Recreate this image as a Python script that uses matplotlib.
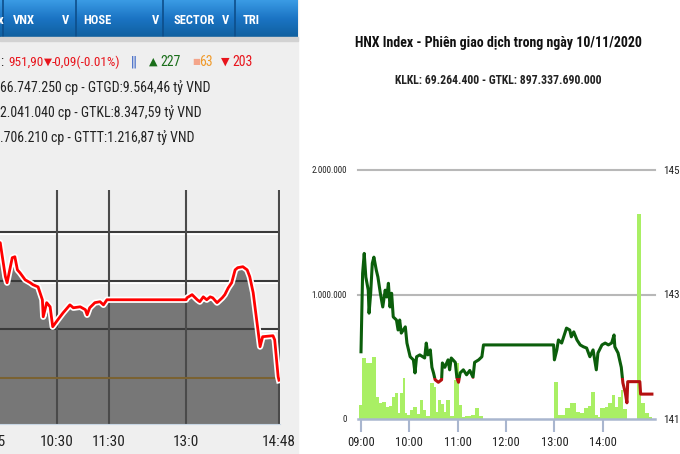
import numpy as np
import matplotlib
matplotlib.use('Agg')
import matplotlib.pyplot as plt
import matplotlib.patheffects as pe
from matplotlib import font_manager
from matplotlib.patches import Rectangle
from matplotlib.colors import LinearSegmentedColormap

# ---- VN-Index (left screenshot, cropped) ----
vn_time = ['9:15', '9:24', '9:30', '9:32', '9:38', '9:41', '9:44', '9:47', '9:53', '9:59',
           '10:02', '10:08', '10:13', '10:14', '10:18', '10:22', '10:25', '10:31', '10:37', '10:45',
           '10:49', '10:57', '11:03', '11:05', '11:08', '11:14', '11:20', '11:24', '11:28', '13:00',
           '13:01', '13:07', '13:13', '13:16', '13:20', '13:24', '13:28', '13:31', '13:36', '13:42',
           '13:45', '13:49', '13:53', '13:57', '14:00', '14:06', '14:11', '14:14', '14:18', '14:22',
           '14:26', '14:29', '14:41', '14:43', '14:47', '14:48']
vn_value = [957.20, 957.56, 956.16, 955.91, 956.94, 956.98, 956.44, 956.32, 956.03, 955.91,
            955.83, 955.74, 955.21, 954.51, 955.09, 954.92, 954.10, 954.39, 954.67, 955.00,
            954.88, 954.92, 954.80, 954.59, 954.88, 955.09, 955.13, 955.00, 955.21, 955.21,
            955.29, 955.42, 955.21, 955.13, 955.33, 955.21, 955.33, 955.29, 955.09, 955.29,
            955.42, 955.70, 955.91, 956.44, 956.53, 956.57, 956.44, 956.16, 955.50, 954.39,
            953.28, 953.69, 953.73, 953.56, 952.04, 951.90]
vn_ref = 951.99
vn_grid = [954, 956, 958]
vn_ticks = ['9:15', '10:30', '11:30', '13:00', '14:48']
vn_tick_labels = ['9:15', '10:30', '11:30', '13:0', '14:48']
menu_items = ['VNX', 'HOSE', 'SECTOR', 'TRI']
info_lines = ['66.747.250 cp - GTGD:9.564,46 tỷ VND',
              '2.041.040 cp - GTKL:8.347,59 tỷ VND',
              '.706.210 cp - GTTT:1.216,87 tỷ VND']

# ---- HNX-Index (right chart) ----
hnx_time = ['9:00', '9:02', '9:04', '9:06', '9:09', '9:10', '9:12', '9:14', '9:16', '9:19',
            '9:21', '9:24', '9:27', '9:30', '9:32', '9:34', '9:36', '9:38', '9:40', '9:44',
            '9:46', '9:48', '9:50', '9:55', '9:57', '10:01', '10:05', '10:07', '10:09', '10:13',
            '10:19', '10:21', '10:23', '10:26', '10:28', '10:30', '10:32', '10:36', '10:40', '10:41',
            '10:44', '10:48', '10:50', '10:52', '10:57', '10:59', '11:01', '11:03', '11:07', '11:11',
            '11:15', '11:19', '11:21', '11:26', '11:30', '11:32', '12:59', '13:00', '13:03', '13:05',
            '13:09', '13:13', '13:15', '13:19', '13:21', '13:24', '13:28', '13:32', '13:36', '13:40',
            '13:44', '13:48', '13:52', '13:54', '13:59', '14:03', '14:07', '14:11', '14:14', '14:15',
            '14:19', '14:23', '14:25', '14:28', '14:30', '14:31', '14:46', '14:47', '15:01']
hnx_value = [142.08, 143.34, 143.66, 143.28, 143.07, 142.70, 143.02, 143.50, 143.60, 143.39,
             143.28, 143.02, 142.80, 143.07, 142.96, 143.18, 142.80, 143.02, 142.64, 142.59,
             142.43, 142.59, 142.38, 142.48, 142.22, 142.00, 141.95, 141.74, 142.00, 142.03,
             141.98, 142.22, 142.03, 142.11, 141.83, 141.74, 141.63, 141.59, 141.63, 141.90,
             141.83, 141.95, 141.79, 141.98, 141.91, 141.66, 141.59, 141.74, 141.79, 141.71,
             141.78, 141.67, 141.91, 141.95, 142.00, 142.19, 142.19, 141.95, 142.11, 142.27,
             142.22, 142.38, 142.46, 142.43, 142.32, 142.40, 142.27, 142.19, 142.16, 142.14,
             142.00, 142.11, 141.79, 142.06, 142.19, 142.22, 142.19, 142.22, 142.35, 142.16,
             142.06, 141.83, 141.58, 141.42, 141.26, 141.60, 141.60, 141.40, 141.40]
hnx_ref = 141.66

vol_time = ['8:58', '9:01', '9:06', '9:14', '9:19', '9:22', '9:26', '9:31', '9:35', '9:38',
            '9:42', '9:46', '9:48', '9:52', '9:55', '9:57', '10:01', '10:05', '10:09', '10:13',
            '10:17', '10:21', '10:26', '10:30', '10:33', '10:36', '10:39', '10:43', '10:46', '10:50',
            '10:55', '10:58', '11:01', '11:05', '11:09', '11:17', '11:21', '11:26', '11:31',
            '13:00', '13:04', '13:13', '13:19', '13:27', '13:32', '13:37', '13:42', '13:46', '13:50',
            '13:54', '13:57', '14:03', '14:07', '14:11', '14:15', '14:19', '14:23', '14:25', '14:30',
            '14:43', '14:48', '14:52', '14:57', '15:01']
vol_value = [110, 490, 450, 500, 175, 130, 135, 95, 105, 175,
             205, 50, 205, 330, 50, 30, 75, 100, 40, 150,
             75, 25, 290, 255, 60, 155, 120, 60, 150, 25,
             310, 450, 110, 15, 25, 35, 90, 25, 0,
             300, 30, 90, 130, 60, 50, 85, 105, 215, 30,
             20, 90, 95, 125, 190, 95, 175, 230, 80, 0,
             1650, 125, 50, 15, 0]   # thousand shares
hnx_ticks = ['9:00', '10:00', '11:00', '12:00', '13:00', '14:00']
hnx_tick_labels = ['09:00', '10:00', '11:00', '12:00', '13:00', '14:00']


def minutes(s):
    h, m = s.split(':')
    return int(h) * 60 + int(m)


def pick_font(*names):
    installed = {f.name for f in font_manager.fontManager.ttflist}
    for n in names:
        if n in installed:
            return n
    return 'DejaVu Sans'


narrow = pick_font('Liberation Sans Narrow', 'Roboto Condensed', 'Open Sans Condensed')
plt.rcParams['font.family'] = [narrow, 'DejaVu Sans']

W, H = 680, 454


def px_box(x0, y0, x1, y1):
    return [x0 / W, 1 - y1 / H, (x1 - x0) / W, (y1 - y0) / H]


fig = plt.figure(figsize=(W / 100, H / 100), dpi=100)
fig.patch.set_facecolor('white')
fig.add_artist(Rectangle((0, 0), 298 / W, 1, transform=fig.transFigure,
                         color='#efefef', zorder=0))


def ftext(x, y, s, **kw):
    fig.text(x / W, 1 - y / H, s, va='center', **kw)


# header bar
hdr = fig.add_axes(px_box(0, 0, 298, 37))
grad = np.linspace(0, 1, 50).reshape(-1, 1)
cmap = LinearSegmentedColormap.from_list('hdr', ['#3a9be4', '#1b74c4', '#10609f'])
hdr.imshow(grad, aspect='auto', cmap=cmap, extent=(0, 298, 37, 0))
hdr.set_xlim(0, 298)
hdr.set_ylim(37, 0)
hdr.axis('off')
for x in [3, 76, 163, 235]:
    hdr.axvline(x, color='#0d4e8a', lw=1.2)
hdr.text(-2, 21, 'x', color='white', fontsize=9, fontweight='bold', va='center')
for name, x, chev in zip(menu_items, [13, 83, 173, 243], [66, 156, 226, None]):
    hdr.text(x, 21, name, color='white', fontsize=9, fontweight='bold', va='center')
    if chev:
        hdr.text(chev, 20, 'V', color='white', fontsize=9, fontweight='bold',
                 va='center', ha='center')
fig.add_artist(Rectangle((0, 1 - 41 / H), 298 / W, 4 / H, transform=fig.transFigure,
                         color='#d2d2d2', zorder=1))

# quote line
red = '#e8141c'
ftext(0, 62, ':', color='#222222', fontsize=10)
ftext(8, 62, '951,90', color=red, fontsize=9.5)
ftext(44, 62, '▼', color=red, fontsize=7.5)
ftext(52, 62, '-0,09(-0.01%)', color=red, fontsize=9.5)
ftext(131, 62, '||', color='#2050c0', fontsize=10)
ftext(149, 62, '▲', color='#1a6e1a', fontsize=8)
ftext(160, 62, '227', color='#1a6e1a', fontsize=10)
ftext(192, 62, '■', color='#f4a58a', fontsize=6)
ftext(199, 62, '63', color='#ef9a2a', fontsize=10)
ftext(221, 62, '▼', color=red, fontsize=8)
ftext(232, 62, '203', color=red, fontsize=10)
for line, y in zip(info_lines, [88, 113, 138]):
    ftext(0, y, line, color='#222222', fontsize=10)

# VN-Index chart
t0 = minutes('10:30')
scale = (279 - 57) / (minutes('14:48') - t0)          # px per minute
ax1 = fig.add_axes(px_box(-60, 190, 280, 424))
ax1.set_xlim(t0 + (-60 - 57) / scale, t0 + (280 - 57) / scale)
ax1.set_ylim(vn_ref - 46 / 24.3, vn_ref + 188 / 24.3)
ax1.set_facecolor('#eeeeee')
vt = [minutes(s) for s in vn_time]
ax1.fill_between(vt, vn_value, ax1.get_ylim()[0], color='#777777', lw=0, zorder=1)
for g in vn_grid:
    ax1.axhline(g - 0.085, color='white', lw=1.5, zorder=0.5)
    ax1.axhline(g, color='#3a3a3a', lw=1.5, zorder=2)
for s in vn_ticks:
    ax1.axvline(minutes(s), color='#4a4a4a', lw=1.5, zorder=2)
ax1.axhline(vn_ref, color='#7a6232', lw=1.5, zorder=2)
ax1.plot(vt, vn_value, color='#ff0000', lw=2, zorder=3,
         path_effects=[pe.Stroke(linewidth=4.5, foreground='white'), pe.Normal()])
for sp in ['top', 'left', 'right']:
    ax1.spines[sp].set_visible(False)
ax1.spines['bottom'].set_color('#c8d6e4')
ax1.set_xticks([minutes(s) for s in vn_ticks], vn_tick_labels)
ax1.tick_params(axis='x', length=0, pad=8, labelsize=11, labelcolor='#222222')
ax1.set_yticks([])

# HNX chart
h0 = minutes('9:00')
hscale = 48.35 / 60
ax2 = fig.add_axes(px_box(358, 170, 655, 419))
ax2.set_xlim(h0 - 3 / hscale, h0 + 294 / hscale)
ax2.set_ylim(0, 2000)
ax2.fill_between([minutes(s) for s in vol_time], vol_value, step='post',
                 color='#a9ef64', lw=0, zorder=1)
for g in [1000, 2000]:
    ax2.axhline(g, color='#b8b8b8', lw=1.5, zorder=0.5, clip_on=False)
for sp in ['top', 'left', 'right']:
    ax2.spines[sp].set_visible(False)
ax2.spines['bottom'].set_color('#a9b6cf')
ax2.spines['bottom'].set_linewidth(1.8)
ax2.set_xticks([minutes(s) for s in hnx_ticks], hnx_tick_labels)
ax2.tick_params(axis='x', direction='out', length=9, width=1.5, color='#a9b6cf',
                pad=3, labelsize=9, labelcolor='#222222')
ax2.set_yticks([0, 1000, 2000], ['0', '1.000.000', '2.000.000'])
ax2.tick_params(axis='y', length=0, pad=8, labelsize=6.5, labelcolor='#222222')

ax3 = ax2.twinx()
ax3.set_ylim(141, 145)
for sp in ax3.spines.values():
    sp.set_visible(False)
ax3.set_yticks([141, 143, 145])
ax3.tick_params(axis='y', length=0, pad=6, labelsize=8, labelcolor='#222222')
ht = [minutes(s) for s in hnx_time]
xl = ax2.get_xlim()
up, = ax3.plot(ht, hnx_value, color='#0b5e0b', lw=2.2, zorder=3)
up.set_clip_path(Rectangle((xl[0], hnx_ref), xl[1] - xl[0], 10, transform=ax3.transData))
down, = ax3.plot(ht, hnx_value, color='#b41010', lw=2.2, zorder=3)
down.set_clip_path(Rectangle((xl[0], 130), xl[1] - xl[0], hnx_ref - 130,
                             transform=ax3.transData))

ftext(498, 43, 'HNX Index - Phiên giao dịch trong ngày 10/11/2020', ha='center',
      fontsize=10, fontweight='bold', color='#111111')
ftext(498, 80, 'KLKL: 69.264.400 - GTKL: 897.337.690.000', ha='center',
      fontsize=8.5, fontweight='bold', color='#222222')

fig.savefig('out.png', dpi=100)
